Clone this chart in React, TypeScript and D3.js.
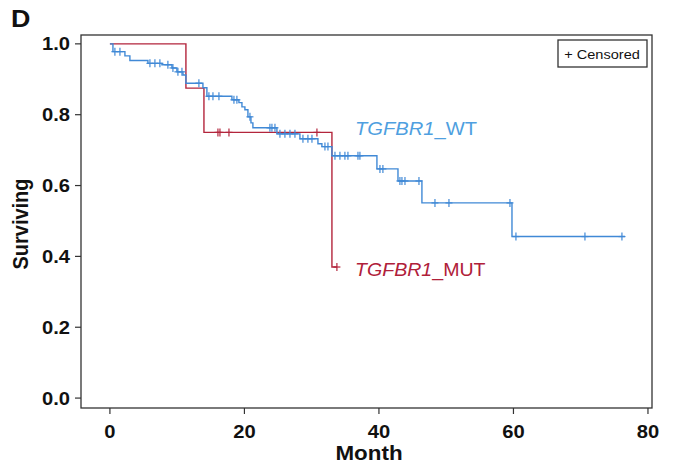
import React from "react";
import * as d3 from "d3";

// Kaplan-Meier step data (months, survival probability)
const wtTimes = [0, 0.45, 2.23, 2.97, 5.65, 7.73, 9.22, 9.96, 10.86, 11.3, 13.83, 14.42, 18.14, 19.18, 19.63, 20.07, 20.52, 20.97, 21.26, 24.83, 28.25, 30.93, 31.52, 33.01, 39.7, 42.83, 46.39, 59.78];
const wtSurv = [1, 0.978, 0.966, 0.953, 0.945, 0.941, 0.932, 0.921, 0.912, 0.889, 0.876, 0.852, 0.842, 0.834, 0.822, 0.814, 0.794, 0.777, 0.763, 0.746, 0.732, 0.718, 0.71, 0.684, 0.647, 0.613, 0.551, 0.456];
const wtCensor = [0.74, 1.49, 5.95, 6.69, 7.43, 8.62, 9.37, 10.11, 10.71, 13.23, 14.72, 15.32, 16.21, 18.44, 18.88, 20.82, 23.79, 24.09, 24.54, 25.28, 26.02, 26.77, 27.51, 28.7, 29.44, 30.04, 31.97, 32.42, 33.46, 34.2, 34.94, 35.39, 36.88, 37.17, 40.15, 40.59, 43.12, 43.42, 43.87, 45.95, 48.33, 50.41, 59.48, 60.37, 70.63, 76.13];
const wtEnd = 76.6;

const mutTimes = [0, 11.3, 13.98, 33.01];
const mutSurv = [1, 0.875, 0.75, 0.37];
const mutCensor = [16.06, 16.36, 17.7, 30.78, 33.75];
const mutEnd = 33.75;

const xTicks = [0, 20, 40, 60, 80];
const yTicks = [0, 0.2, 0.4, 0.6, 0.8, 1.0];

const W = 675;
const H = 465;
const SX = 1.12; // horizontal text stretch of the original figure
const FONT = "'Liberation Sans', Arial, Helvetica, sans-serif";
const BLUE = "#4089d6";
const RED = "#b3253c";

const x = d3.scaleLinear().domain([-4.3, 80.6]).range([81, 652]);
const y = d3.scaleLinear().domain([-0.028, 1.025]).range([408, 35]);

function survAt(times: number[], surv: number[], t: number) {
  let v = surv[0];
  for (let i = 0; i < times.length; i++) if (times[i] <= t) v = surv[i];
  return v;
}

function stepPath(times: number[], surv: number[], end: number) {
  const pts: [number, number][] = times.map((t, i) => [t, surv[i]]);
  pts.push([end, surv[surv.length - 1]]);
  return d3
    .line<[number, number]>()
    .x((d) => x(d[0]))
    .y((d) => y(d[1]))
    .curve(d3.curveStepAfter)(pts) as string;
}

function STxt(props: { x: number; y: number; anchor?: string; size: number; weight?: string; fill?: string; children: React.ReactNode; rotate?: boolean }) {
  const { x: tx, y: ty, anchor = "start", size, weight = "normal", fill = "#111", children, rotate } = props;
  return (
    <g transform={`translate(${tx},${ty}) scale(${SX},1)${rotate ? " rotate(-90)" : ""}`}>
      <text textAnchor={anchor} fontSize={size} fontWeight={weight} fill={fill} fontFamily={FONT}>
        {children}
      </text>
    </g>
  );
}

function Censors({ times, surv, cens, color }: { times: number[]; surv: number[]; cens: number[]; color: string }) {
  return (
    <g stroke={color} strokeWidth={1.2}>
      {cens.map((c, i) => {
        const cx = x(c);
        const cy = y(survAt(times, surv, c));
        return (
          <g key={i}>
            <line x1={cx} x2={cx} y1={cy - 4} y2={cy + 4} />
            <line x1={cx - 3.5} x2={cx + 3.5} y1={cy} y2={cy} />
          </g>
        );
      })}
    </g>
  );
}

export default function App() {
  return (
    <div style={{ position: "absolute", left: 0, top: 0 }}>
      <svg width={W} height={H} style={{ display: "block", background: "#fff" }}>
        <STxt x={11} y={27} size={24} weight="bold">D</STxt>

        {/* frame */}
        <rect x={81} y={35} width={571} height={373} fill="none" stroke="#333" strokeWidth={1.3} />

        {/* y axis ticks */}
        {yTicks.map((t) => (
          <g key={t}>
            <line x1={75} x2={81} y1={y(t)} y2={y(t)} stroke="#333" strokeWidth={1.2} />
            <STxt x={70} y={y(t) + 6.5} anchor="end" size={18} weight="bold">{t.toFixed(1)}</STxt>
          </g>
        ))}
        {/* x axis ticks */}
        {xTicks.map((t) => (
          <g key={t}>
            <line x1={x(t)} x2={x(t)} y1={408} y2={414} stroke="#333" strokeWidth={1.2} />
            <STxt x={x(t)} y={438} anchor="middle" size={18} weight="bold">{t}</STxt>
          </g>
        ))}

        <STxt x={369} y={460} anchor="middle" size={20} weight="bold">Month</STxt>
        <STxt x={28} y={224} anchor="middle" size={20} weight="bold" rotate>Surviving</STxt>

        {/* curves */}
        <path d={stepPath(mutTimes, mutSurv, mutEnd)} fill="none" stroke={RED} strokeWidth={1.4} />
        <path d={stepPath(wtTimes, wtSurv, wtEnd)} fill="none" stroke={BLUE} strokeWidth={1.4} />
        <Censors times={mutTimes} surv={mutSurv} cens={mutCensor} color={RED} />
        <Censors times={wtTimes} surv={wtSurv} cens={wtCensor} color={BLUE} />

        {/* group labels */}
        <STxt x={355} y={135} size={18} fill="#4f9fe0">
          <tspan fontStyle="italic">TGFBR1</tspan>
          <tspan>_WT</tspan>
        </STxt>
        <STxt x={355} y={276} size={17.5} fill="#b0203a">
          <tspan fontStyle="italic">TGFBR1</tspan>
          <tspan>_MUT</tspan>
        </STxt>

        {/* legend */}
        <rect x={558} y={40} width={89} height={27} fill="#fff" stroke="#333" strokeWidth={1.3} />
        <STxt x={602} y={58.5} anchor="middle" size={13}>+ Censored</STxt>
      </svg>
    </div>
  );
}
